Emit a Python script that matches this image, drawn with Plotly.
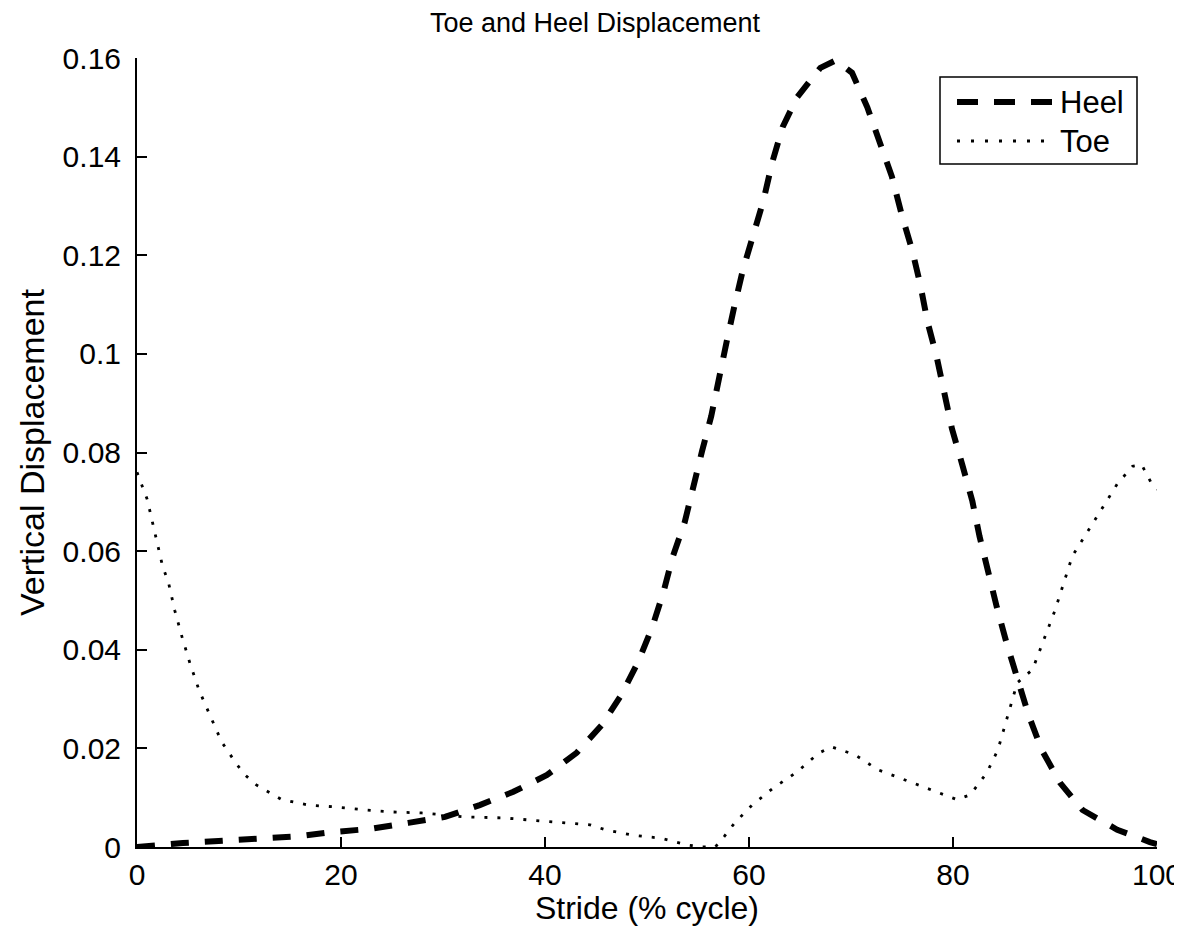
import plotly.graph_objects as go

# ---- data ----
heel_x = [0, 1, 4.5, 8, 12, 16, 19, 23, 26.6, 30.2, 33.6, 36.9, 40.2, 43.1, 45.6, 47.5,
          49.1, 50.5, 51.6, 52.5, 53.7, 54.5, 55.4, 56.3, 57.0, 57.8, 58.6, 59.4, 60.4,
          61.4, 62.3, 63.3, 64.7, 67.0, 68.5, 70.1, 71.6, 72.8, 74.0, 75.0, 76.0, 76.8,
          77.5, 78.4, 79.2, 79.9, 80.9, 81.9, 82.6, 83.4, 84.3, 85.3, 86.3, 87.4, 88.7,
          90.5, 92.7, 96.1, 99.3, 100]
heel_y = [0.0, 0.0002, 0.0008, 0.0012, 0.0018, 0.0022, 0.003, 0.0037, 0.0049, 0.0061,
          0.0085, 0.0112, 0.0146, 0.0191, 0.0248, 0.0309, 0.0374, 0.0445, 0.0516, 0.0587,
          0.0659, 0.073, 0.0803, 0.0874, 0.0949, 0.1024, 0.110, 0.117, 0.124, 0.131,
          0.139, 0.146, 0.152, 0.158, 0.1595, 0.157, 0.150, 0.143, 0.136, 0.128, 0.121,
          0.114, 0.1065, 0.0994, 0.0919, 0.0848, 0.0776, 0.0701, 0.063, 0.0557, 0.0486,
          0.041, 0.034, 0.0268, 0.0197, 0.013, 0.0075, 0.0035, 0.001, 0.0006]

toe_x = [0, 1, 2, 2.5, 3.1, 3.7, 4.4, 5.2, 6.1, 7.2, 8.3, 9.8, 10.6, 11.7, 13.0, 14.2,
         16.8, 19.6, 22.5, 25.1, 27.9, 32.2, 35.9, 40.3, 44.4, 45.9, 48.6, 51.3, 54.0,
         55.4, 56.7, 57.6, 58.6, 60.3, 62.4, 64.7, 66.8, 68.1, 70.4, 72.6, 75.3, 77.7,
         80.4, 81.7, 83.3, 84.4, 86.3, 87.8, 89.2, 90.0, 91.7, 93.3, 94.7, 96.1, 97.6,
         98.5, 99.6, 100]
toe_y = [0.076, 0.0705, 0.0615, 0.057, 0.0535, 0.048, 0.0427, 0.0372, 0.0317, 0.0264,
         0.0213, 0.0167, 0.0146, 0.0126, 0.011, 0.0096, 0.0085, 0.0081, 0.0075, 0.0071,
         0.0069, 0.0061, 0.0059, 0.0051, 0.0045, 0.0035, 0.0024, 0.0018, 0.0004, 0.0,
         0.0, 0.0022, 0.0049, 0.0085, 0.012, 0.0152, 0.019, 0.0203, 0.0187, 0.0157,
         0.0136, 0.0116, 0.0096, 0.0106, 0.015, 0.0197, 0.0333, 0.036, 0.0435, 0.048,
         0.059, 0.0644, 0.069, 0.0736, 0.0772, 0.0775, 0.0732, 0.0725]

x_ticks = [0, 20, 40, 60, 80, 100]
x_tick_text = ["0", "20", "40", "60", "80", "100"]
y_ticks = [0, 0.02, 0.04, 0.06, 0.08, 0.10, 0.12, 0.14, 0.16]
y_tick_text = ["0", "0.02", "0.04", "0.06", "0.08", "0.1", "0.12", "0.14", "0.16"]

series_names = ["Heel", "Toe"]

FONT = "Liberation Sans, Arial, sans-serif"
HEEL_DASH = "18px,16px"
TOE_DASH = "3px,10px"

fig = go.Figure()
fig.add_trace(go.Scatter(x=heel_x, y=heel_y, mode="lines", name=series_names[0],
                         line=dict(color="black", width=6, dash=HEEL_DASH)))
fig.add_trace(go.Scatter(x=toe_x, y=toe_y, mode="lines", name=series_names[1],
                         line=dict(color="black", width=2.8, dash=TOE_DASH)))

OFF = 8  # page body margin
W, H = 1174, 918
L, R, T, B = 129, 25, 50, 79

fig.update_layout(
    width=W, height=H,
    margin=dict(l=L, r=R, t=T, b=B, autoexpand=False),
    paper_bgcolor="white", plot_bgcolor="white",
    showlegend=False,
    font=dict(family=FONT, color="black", size=30),
    title=dict(text="Toe and Heel Displacement", x=0.5, xanchor="center",
               y=1 - 5 / H, yanchor="top", yref="container", pad=dict(t=0),
               font=dict(family=FONT, size=27, color="black")),
    xaxis=dict(range=[0, 100], tickvals=x_ticks, ticktext=x_tick_text,
               showgrid=False, zeroline=False, showline=True, linecolor="black",
               linewidth=2, ticks="inside", ticklen=10, tickwidth=2, tickcolor="black",
               tickfont=dict(size=30), mirror=False, ticklabeloverflow="allow",
               automargin=False,
               title=dict(text="Stride (% cycle)", font=dict(size=32), standoff=4)),
    yaxis=dict(range=[0, 0.16], tickvals=y_ticks, ticktext=y_tick_text,
               showgrid=False, zeroline=False, showline=True, linecolor="black",
               linewidth=2, ticks="inside", ticklen=10, tickwidth=2, tickcolor="black",
               tickfont=dict(size=30), mirror=False, ticklabelstandoff=8,
               automargin=False,
               title=dict(text="Vertical Displacement", font=dict(size=34), standoff=8)),
)

# ---- legend box drawn in paper coordinates (page pixel positions) ----
pw, ph = W - L - R, H - T - B
def px(xp):
    return (xp - OFF - L) / pw
def py(yp):
    return (H - B - (yp - OFF)) / ph

fig.add_shape(type="rect", xref="paper", yref="paper",
              x0=px(940), x1=px(1137), y0=py(164), y1=py(77),
              line=dict(color="black", width=1.5), fillcolor="white", layer="above")
fig.add_shape(type="line", xref="paper", yref="paper",
              x0=px(957), x1=px(1053), y0=py(102), y1=py(102),
              line=dict(color="black", width=6, dash="21px,16px"), layer="above")
fig.add_shape(type="line", xref="paper", yref="paper",
              x0=px(957), x1=px(1053), y0=py(141), y1=py(141),
              line=dict(color="black", width=2.8, dash="3px,11px"), layer="above")
for name, yp in zip(series_names, [102, 141]):
    fig.add_annotation(xref="paper", yref="paper", x=px(1058), y=py(yp),
                       xanchor="left", yanchor="middle", showarrow=False,
                       text=name, font=dict(family=FONT, size=31, color="black"))

fig.write_html("out.html")
